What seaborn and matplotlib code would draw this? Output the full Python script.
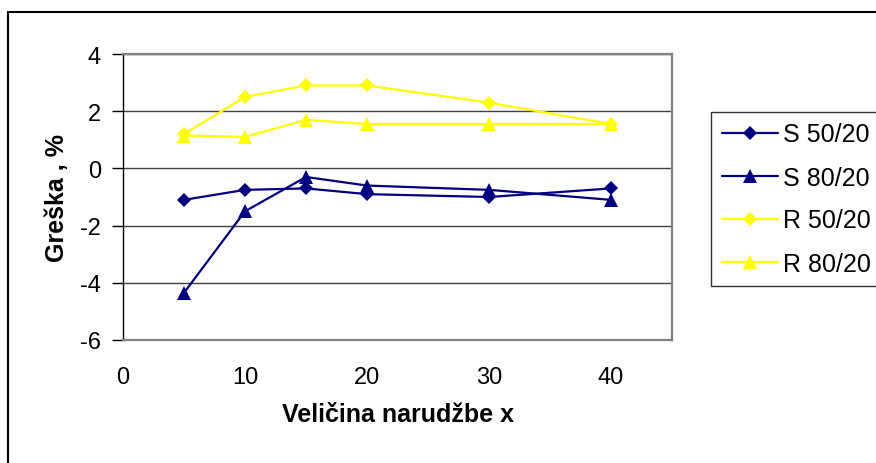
import pandas as pd
import matplotlib
matplotlib.use("Agg")
import matplotlib.pyplot as plt
import matplotlib.patches as mpatches
import seaborn as sns

# podaci
velicina = [5, 10, 15, 20, 30, 40]
s_50_20 = [-1.1, -0.75, -0.7, -0.9, -1.0, -0.7]
s_80_20 = [-4.35, -1.5, -0.3, -0.6, -0.75, -1.1]
r_50_20 = [1.2, 2.5, 2.9, 2.9, 2.3, 1.55]
r_80_20 = [1.15, 1.1, 1.7, 1.55, 1.55, 1.55]

serije = ["S 50/20", "S 80/20", "R 50/20", "R 80/20"]
vrijednosti = [s_50_20, s_80_20, r_50_20, r_80_20]
boje = {"S 50/20": "#000080", "S 80/20": "#000080", "R 50/20": "#FFFF00", "R 80/20": "#FFFF00"}
markeri = {"S 50/20": "D", "S 80/20": "^", "R 50/20": "D", "R 80/20": "^"}
velicine_markera = {"D": 7.5, "^": 10}

df = pd.concat([pd.DataFrame({"x": velicina, "y": v, "serija": s}) for s, v in zip(serije, vrijednosti)])

sns.set_style("white", {"text.color": "black", "xtick.color": "black", "ytick.color": "black",
                        "axes.labelcolor": "black"})
plt.rcParams['font.family'] = ['Liberation Sans', 'DejaVu Sans']
plt.rcParams['axes.unicode_minus'] = False

fig = plt.figure(figsize=(8.76, 4.64), dpi=100)
W, H = 876, 464
ax = fig.add_axes([123 / W, 1 - 341 / H, (672 - 123) / W, (341 - 55) / H])

for s in serije:
    d = df[df["serija"] == s]
    m = markeri[s]
    sns.lineplot(data=d, x="x", y="y", ax=ax, color=boje[s], marker=m,
                 markersize=velicine_markera[m], markeredgewidth=0, linewidth=1.6,
                 label=s, sort=False, zorder=3)

ax.set_xlim(0, 45)
ax.set_ylim(-6, 4)
ax.set_xticks([0, 10, 20, 30, 40])
ax.set_yticks([-6, -4, -2, 0, 2, 4])
ax.yaxis.grid(True, color="#404040", linewidth=1.0)
ax.xaxis.grid(False)
ax.tick_params(axis="y", direction="out", length=8, width=1, color="black", pad=8, labelsize=17, left=True)
ax.tick_params(axis="x", length=0, pad=19, labelsize=17)

for sp in ["top", "right", "bottom"]:
    ax.spines[sp].set_color("#808080")
    ax.spines[sp].set_linewidth(1.6)
ax.spines["left"].set_color("black")
ax.spines["left"].set_linewidth(1.0)

ax.set_xlabel("Veličina narudžbe x", fontsize=18, fontweight="bold", labelpad=10)
ax.set_ylabel("Greška , %", fontsize=18, fontweight="bold", labelpad=8)

# legenda
ax.legend_.remove()
handles, labels = ax.get_legend_handles_labels()
leg = fig.legend(handles, labels, loc="upper left", bbox_to_anchor=(711 / W, 1 - 113 / H),
                 bbox_transform=fig.transFigure, fontsize=18, frameon=True, fancybox=False,
                 handlelength=2.25, handletextpad=0.2, labelspacing=0.76, borderpad=0.42,
                 borderaxespad=0)
leg.get_frame().set_edgecolor("#000000")
leg.get_frame().set_linewidth(1.0)

# okvir grafikona
okvir = mpatches.Rectangle((8 / W, -0.1), 1.2, 1.1 - 13 / H, transform=fig.transFigure,
                           fill=False, edgecolor="black", linewidth=1.5, clip_on=False)
fig.patches.append(okvir)

plt.savefig("out.png", dpi=100)
